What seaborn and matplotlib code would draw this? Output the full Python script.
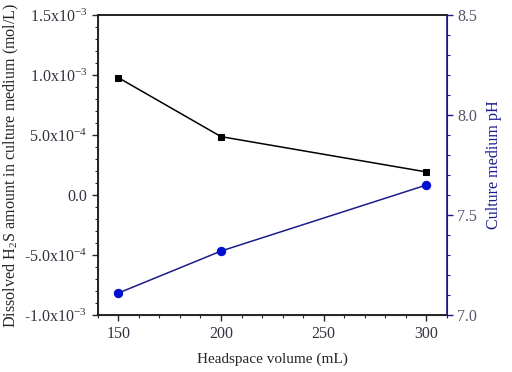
import pandas as pd
import seaborn as sns
import matplotlib
matplotlib.use('Agg')
import matplotlib.pyplot as plt
from matplotlib.ticker import MultipleLocator, FixedLocator, FixedFormatter

# data
volume = [150, 200, 300]
h2s = [9.77e-4, 4.86e-4, 1.92e-4]
ph = [7.11, 7.32, 7.65]

left_ticks = [-1.0e-3, -5.0e-4, 0.0, 5.0e-4, 1.0e-3, 1.5e-3]
left_labels = [r'-1.0x10$^{-3}$', r'-5.0x10$^{-4}$', '0.0',
               r'5.0x10$^{-4}$', r'1.0x10$^{-3}$', r'1.5x10$^{-3}$']

sns.set_style('ticks')
plt.rcParams['font.family'] = ['Liberation Serif', 'DejaVu Serif']
plt.rcParams['mathtext.fontset'] = 'custom'
plt.rcParams['mathtext.rm'] = 'Liberation Serif'
plt.rcParams['mathtext.it'] = 'Liberation Serif:italic'
plt.rcParams['font.size'] = 11

df = pd.DataFrame({'volume': volume, 'h2s': h2s, 'ph': ph})

navy = '#1c1c8a'
blue = '#0010d0'
tickgrey = '#333340'

fig = plt.figure(figsize=(5.12, 3.72), dpi=100)
ax = fig.add_axes([0.191, 0.153, 0.682, 0.807])
sns.lineplot(data=df, x='volume', y='h2s', ax=ax, color='black', marker='s',
             markersize=5, markeredgecolor='black', linewidth=1.1)
ax.set_xlim(140, 310)
ax.set_ylim(-1.0e-3, 1.5e-3)
ax.yaxis.set_major_locator(FixedLocator(left_ticks))
ax.yaxis.set_major_formatter(FixedFormatter(left_labels))
ax.yaxis.set_minor_locator(MultipleLocator(1e-4))
ax.xaxis.set_major_locator(MultipleLocator(50))
ax.xaxis.set_minor_locator(MultipleLocator(10))
ax.set_xlabel('Headspace volume (mL)', fontsize=11, labelpad=8)
ax.set_ylabel(r'Dissolved H$_2$S amount in culture medium (mol/L)', fontsize=11.6, labelpad=2)
ax.tick_params(which='major', length=4, width=1, labelsize=11.5, labelcolor=tickgrey)
ax.tick_params(which='minor', length=2, width=0.8)
ax.tick_params(axis='x', which='both', top=False)

ax2 = ax.twinx()
sns.lineplot(data=df, x='volume', y='ph', ax=ax2, color=navy, marker='o',
             markersize=6, markerfacecolor=blue, markeredgecolor=blue, linewidth=1.1)
ax2.set_ylim(7.0, 8.5)
ax2.yaxis.set_major_locator(MultipleLocator(0.5))
ax2.yaxis.set_minor_locator(MultipleLocator(0.1))
ax2.yaxis.set_major_formatter(plt.FormatStrFormatter('%.1f'))
ax2.set_ylabel('Culture medium pH', color=navy, fontsize=11.6, labelpad=6)
ax2.tick_params(axis='y', which='major', length=4, width=1, colors=navy,
                labelcolor='#55556a', labelsize=11.5)
ax2.tick_params(axis='y', which='minor', length=2, width=0.8, colors=navy)
ax2.spines['right'].set_color(navy)
ax2.spines['right'].set_linewidth(1.2)
ax2.set_xlabel('')

for s in ['left', 'bottom', 'top']:
    ax.spines[s].set_linewidth(1.2)
    ax.spines[s].set_color('black')
ax2.spines['top'].set_linewidth(1.2)

fig.savefig('out.png', dpi=100)
